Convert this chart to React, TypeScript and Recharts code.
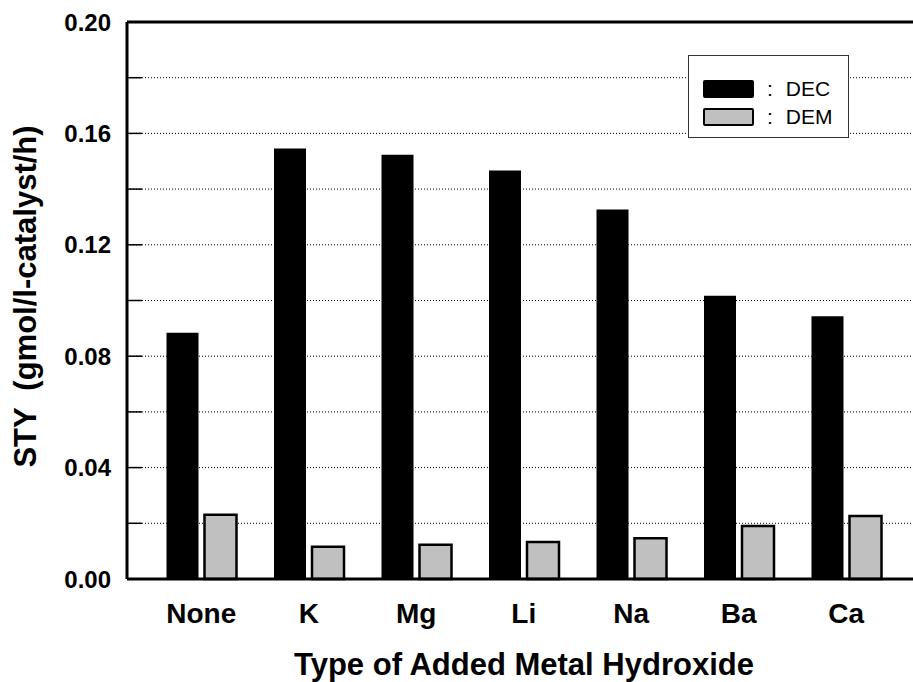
import React from 'react';
import { BarChart, Bar, XAxis, YAxis, CartesianGrid, ReferenceLine, Legend } from 'recharts';

const metals = ['None', 'K', 'Mg', 'Li', 'Na', 'Ba', 'Ca'];
const decValues = [0.0884, 0.1546, 0.1523, 0.1467, 0.1327, 0.1017, 0.0943];
const demValues = [0.0231, 0.0116, 0.0123, 0.0133, 0.0146, 0.019, 0.0226];
const yTicks = [0, 0.02, 0.04, 0.06, 0.08, 0.1, 0.12, 0.14, 0.16, 0.18, 0.2];

const data = metals.map((name, i) => ({ name, DEC: decValues[i], DEM: demValues[i] }));

const FONT = '"Liberation Sans", Arial, Helvetica, sans-serif';

// left axis: inward tick on every gridline, label only every 0.04
const YTick = (props: any) => {
  const { x, y, payload } = props;
  const showLabel = Math.round(payload.value * 100) % 4 === 0;
  return (
    <g>
      <line x1={x} x2={x + 15} y1={y} y2={y} stroke="#000" strokeWidth={1.5} />
      {showLabel && (
        <text x={x - 16} y={y} dy="0.36em" textAnchor="end" fontFamily={FONT} fontWeight="bold" fontSize={24} fill="#000">
          {payload.value.toFixed(2)}
        </text>
      )}
    </g>
  );
};

const XTick = (props: any) => {
  const { x, y, payload } = props;
  return (
    <text x={x} y={y + 44} textAnchor="middle" fontFamily={FONT} fontWeight="bold" fontSize={28} fill="#000">
      {payload.value}
    </text>
  );
};

const LegendBox = (props: any) => {
  const { payload } = props;
  return (
    <div style={{ width: 161, height: 83, border: '1px solid #333', background: '#fff', boxSizing: 'border-box', padding: '19px 0 0 14px', fontFamily: FONT, fontSize: 21 }}>
      {(payload || []).map((p: any) => (
        <div key={p.value} style={{ display: 'flex', alignItems: 'center', height: 28 }}>
          <span style={{ display: 'inline-block', width: 51, height: 18, boxSizing: 'border-box', background: p.payload.fill, border: '2px solid #000', borderRadius: 2 }} />
          <span style={{ marginLeft: 13 }}>:</span>
          <span style={{ marginLeft: 13 }}>{p.value}</span>
        </div>
      ))}
    </div>
  );
};

export default function App() {
  return (
    <div style={{ position: 'absolute', left: 0, top: 0, width: 913, height: 682, overflow: 'hidden', background: '#fff' }}>
      <BarChart width={930} height={682} data={data} margin={{ top: 22, right: 5, bottom: 0, left: 0 }} barSize={32} barGap={6}>
        <CartesianGrid vertical={false} stroke="#000" strokeDasharray="1 2" />
        <XAxis
          dataKey="name"
          height={103}
          padding={{ left: 20.5, right: 25 }}
          axisLine={{ stroke: '#000', strokeWidth: 3 }}
          tickLine={false}
          tickSize={0}
          tickMargin={0}
          tick={<XTick />}
          interval={0}
          label={{
            content: ({ viewBox }: any) => (
              <text x={524} y={viewBox.y + 96} textAnchor="middle" fontFamily={FONT} fontWeight="bold" fontSize={31} fill="#000">
                Type of Added Metal Hydroxide
              </text>
            ),
          }}
        />
        <YAxis
          width={127}
          domain={[0, 0.2]}
          ticks={yTicks}
          interval={0}
          axisLine={{ stroke: '#000', strokeWidth: 3 }}
          tickLine={false}
          tickSize={0}
          tickMargin={0}
          tick={<YTick />}
          label={{
            content: ({ viewBox }: any) => {
              const cx = 25;
              const cy = viewBox.y + viewBox.height / 2 - 4;
              return (
                <text x={cx} y={cy} transform={`rotate(-90, ${cx}, ${cy})`} textAnchor="middle" dominantBaseline="central" fontFamily={FONT} fontWeight="bold" fontSize={31} fill="#000" style={{ whiteSpace: 'pre' }}>
                  {'STY  (gmol/l-catalyst/h)'}
                </text>
              );
            },
          }}
        />
        <ReferenceLine y={0.2} stroke="#000" strokeWidth={3} />
        <Legend
          layout="vertical"
          align="center"
          verticalAlign="middle"
          content={<LegendBox />}
          wrapperStyle={{ position: 'absolute', left: 688, top: 55, width: 161 }}
        />
        <Bar dataKey="DEC" name="DEC" fill="#000" isAnimationActive={false} />
        <Bar dataKey="DEM" name="DEM" fill="#c0c0c0" stroke="#000" strokeWidth={2.5} isAnimationActive={false} />
      </BarChart>
    </div>
  );
}
